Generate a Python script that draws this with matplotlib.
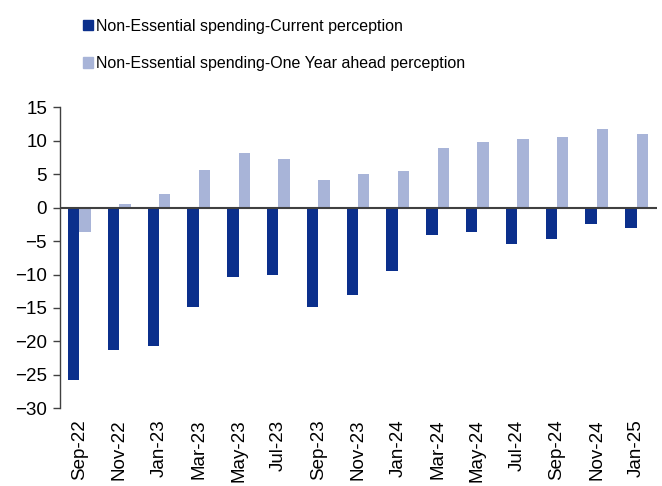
import matplotlib
matplotlib.use("Agg")
import matplotlib.pyplot as plt
import numpy as np
from matplotlib.patches import Patch

plt.rcParams["font.family"] = ["Liberation Sans", "DejaVu Sans"]

months = ["Sep-22", "Nov-22", "Jan-23", "Mar-23", "May-23", "Jul-23", "Sep-23", "Nov-23",
          "Jan-24", "Mar-24", "May-24", "Jul-24", "Sep-24", "Nov-24", "Jan-25"]
current = [-25.8, -21.3, -20.7, -14.8, -10.3, -10.0, -14.8, -13.0,
           -9.4, -4.1, -3.7, -5.4, -4.7, -2.4, -3.1]
year_ahead = [-3.6, 0.55, 2.0, 5.6, 8.2, 7.3, 4.1, 5.0,
              5.5, 8.9, 9.8, 10.2, 10.5, 11.7, 11.0]

dark = "#0B2F8C"
light = "#A8B4D8"
fs = 13.5

fig = plt.figure(figsize=(6.62, 4.86), dpi=100)
ax = fig.add_axes([0.0899, 0.1599, 0.9018, 0.6193])

x = np.arange(len(months))
w = 0.286
ax.bar(x - w / 2, current, w, color=dark, linewidth=0)
ax.bar(x + w / 2, year_ahead, w, color=light, linewidth=0)
ax.axhline(0, color="#404040", linewidth=1.5, zorder=3)

ax.set_xlim(-0.5, len(months) - 0.5)
ax.set_ylim(-30, 15)
ax.set_yticks(np.arange(-30, 16, 5))
ax.set_xticks(x)
ax.set_xticklabels(months, rotation=90, fontsize=fs)
ax.tick_params(axis="x", length=0, pad=8)
ax.tick_params(axis="y", labelsize=fs, length=5, width=1, color="#404040", pad=4)

for side in ["top", "right", "bottom"]:
    ax.spines[side].set_visible(False)
ax.spines["left"].set_color("#404040")
ax.spines["left"].set_linewidth(1)

handles = [Patch(color=dark, label="Non-Essential spending-Current perception"),
           Patch(color=light, label="Non-Essential spending-One Year ahead perception")]
fig.legend(handles=handles, loc="upper left", bbox_to_anchor=(0.116, 0.974),
           frameon=False, fontsize=11.5, handlelength=0.6, handleheight=0.6,
           handletextpad=0.2, labelspacing=1.38, borderaxespad=0)

fig.savefig("out.png", dpi=100)
